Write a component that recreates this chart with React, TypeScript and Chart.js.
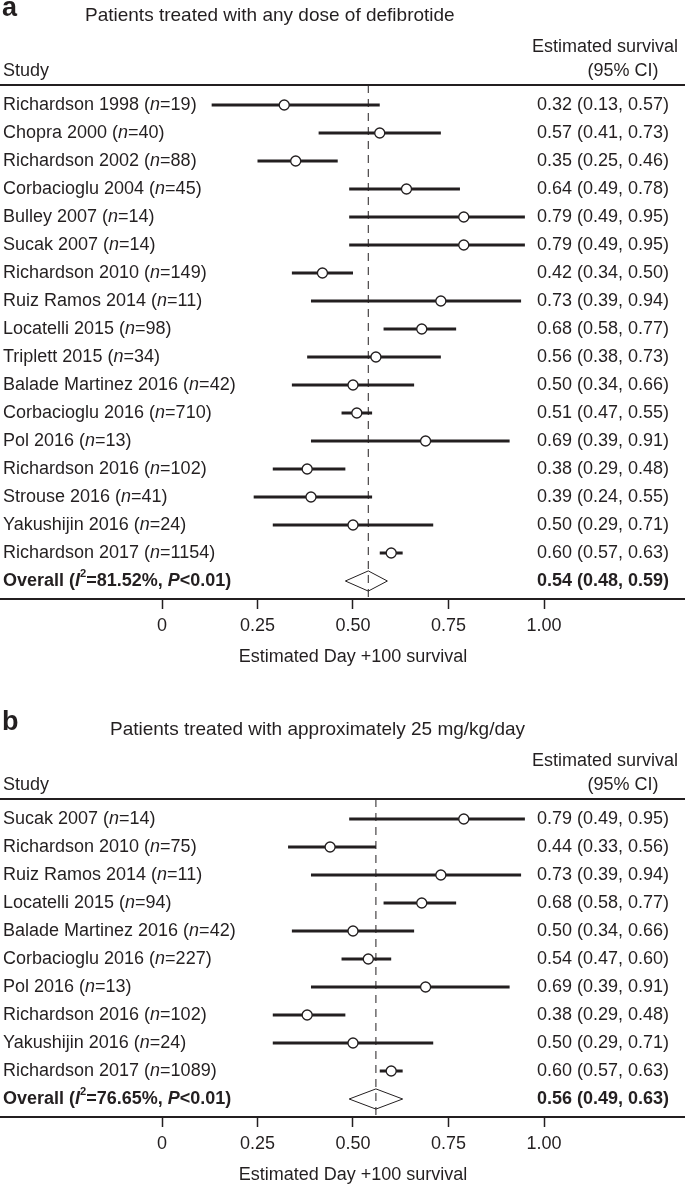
import React, { useEffect, useRef } from 'react';
import { Chart, registerables } from 'chart.js';

Chart.register(...registerables);

const FONT = "'Liberation Sans', Arial, Helvetica, sans-serif";
const INK = '#231f20';

// ---------- Panel a: any dose ----------
const studiesA = [
  'Richardson 1998', 'Chopra 2000', 'Richardson 2002', 'Corbacioglu 2004', 'Bulley 2007',
  'Sucak 2007', 'Richardson 2010', 'Ruiz Ramos 2014', 'Locatelli 2015', 'Triplett 2015',
  'Balade Martinez 2016', 'Corbacioglu 2016', 'Pol 2016', 'Richardson 2016', 'Strouse 2016',
  'Yakushijin 2016', 'Richardson 2017',
];
const nA = [19, 40, 88, 45, 14, 14, 149, 11, 98, 34, 42, 710, 13, 102, 41, 24, 1154];
const estA = [0.32, 0.57, 0.35, 0.64, 0.79, 0.79, 0.42, 0.73, 0.68, 0.56, 0.50, 0.51, 0.69, 0.38, 0.39, 0.50, 0.60];
const lowA = [0.13, 0.41, 0.25, 0.49, 0.49, 0.49, 0.34, 0.39, 0.58, 0.38, 0.34, 0.47, 0.39, 0.29, 0.24, 0.29, 0.57];
const highA = [0.57, 0.73, 0.46, 0.78, 0.95, 0.95, 0.50, 0.94, 0.77, 0.73, 0.66, 0.55, 0.91, 0.48, 0.55, 0.71, 0.63];
const overallA = [0.54, 0.48, 0.59];
const i2A = '81.52%';

// ---------- Panel b: ~25 mg/kg/day ----------
const studiesB = [
  'Sucak 2007', 'Richardson 2010', 'Ruiz Ramos 2014', 'Locatelli 2015', 'Balade Martinez 2016',
  'Corbacioglu 2016', 'Pol 2016', 'Richardson 2016', 'Yakushijin 2016', 'Richardson 2017',
];
const nB = [14, 75, 11, 94, 42, 227, 13, 102, 24, 1089];
const estB = [0.79, 0.44, 0.73, 0.68, 0.50, 0.54, 0.69, 0.38, 0.50, 0.60];
const lowB = [0.49, 0.33, 0.39, 0.58, 0.34, 0.47, 0.39, 0.29, 0.29, 0.57];
const highB = [0.95, 0.56, 0.94, 0.77, 0.66, 0.60, 0.91, 0.48, 0.71, 0.63];
const overallB = [0.56, 0.49, 0.63];
const i2B = '76.65%';

const xTicks = [0, 0.25, 0.5, 0.75, 1];
const xTitle = 'Estimated Day +100 survival';

type Seg = { t: string; b?: boolean; i?: boolean; sup?: boolean };

function fontOf(s: Seg, size: number) {
  return `${s.i ? 'italic ' : ''}${s.b ? 'bold ' : ''}${s.sup ? size * 0.62 : size}px ${FONT}`;
}

function drawRich(ctx: CanvasRenderingContext2D, segs: Seg[], x: number, y: number, size: number, align: 'left' | 'right' | 'center') {
  let w = 0;
  for (const s of segs) {
    ctx.font = fontOf(s, size);
    w += ctx.measureText(s.t).width;
  }
  let cx = align === 'right' ? x - w : align === 'center' ? x - w / 2 : x;
  ctx.textAlign = 'left';
  for (const s of segs) {
    ctx.font = fontOf(s, size);
    ctx.fillText(s.t, cx, s.sup ? y - size * 0.42 : y);
    cx += ctx.measureText(s.t).width;
  }
}

const fmt = (v: number) => v.toFixed(2);

type PanelCfg = {
  letter: string;
  title: string;
  titleX: number;
  studies: string[];
  ns: number[];
  est: number[];
  low: number[];
  high: number[];
  overall: number[];
  i2: string;
  height: number;
  lineY: number;
};

const ROW = 28;
const SIZE = 18;

function Panel({ cfg, top }: { cfg: PanelCfg; top: number }) {
  const ref = useRef<HTMLCanvasElement>(null);
  useEffect(() => {
    const canvas = ref.current!;
    const nRows = cfg.studies.length + 1;
    const k = nRows - 1;
    const yMin = -20 / ROW;
    const yMax = k + 18 / ROW;
    const bottom = cfg.lineY + (yMax - yMin) * ROW;
    const axisH = cfg.height - bottom;
    const lh = SIZE * 1.2;
    const xMin = -162 / 382;
    const xMax = xMin + 685 / 382;

    const datasets: any[] = [];
    datasets.push({
      type: 'scatter',
      data: cfg.est.map((v, i) => ({ x: v, y: i })),
      pointRadius: 5,
      pointBorderWidth: 1.3,
      pointBackgroundColor: '#ffffff',
      pointBorderColor: INK,
      order: 0,
    });
    cfg.low.forEach((lo, i) => {
      datasets.push({
        type: 'line',
        data: [{ x: lo, y: i }, { x: cfg.high[i], y: i }],
        borderColor: INK,
        borderWidth: 3,
        pointRadius: 0,
        borderCapStyle: 'butt',
        fill: false,
        order: 1,
      });
    });
    const [oe, ol, oh] = cfg.overall;
    datasets.push({
      type: 'line',
      data: [
        { x: ol, y: k }, { x: oe, y: k - 0.36 }, { x: oh, y: k }, { x: oe, y: k + 0.36 }, { x: ol, y: k },
      ],
      borderColor: INK,
      borderWidth: 1,
      pointRadius: 0,
      fill: false,
      order: 2,
    });
    datasets.push({
      type: 'line',
      data: [{ x: oe, y: yMin }, { x: oe, y: yMax }],
      borderColor: INK,
      borderWidth: 1,
      borderDash: [8, 6],
      pointRadius: 0,
      fill: false,
      order: 3,
    });

    const textPlugin = {
      id: 'forestText',
      afterDraw(chart: any) {
        const ctx: CanvasRenderingContext2D = chart.ctx;
        const ys = chart.scales.y;
        const xs = chart.scales.x;
        const area = chart.chartArea;
        ctx.save();
        ctx.fillStyle = INK;
        ctx.strokeStyle = INK;
        // header rule
        ctx.lineWidth = 2;
        ctx.beginPath();
        ctx.moveTo(0, area.top);
        ctx.lineTo(chart.width, area.top);
        ctx.stroke();
        // panel letter
        ctx.textBaseline = 'alphabetic';
        ctx.textAlign = 'left';
        ctx.font = `bold 27px ${FONT}`;
        ctx.fillText(cfg.letter, 2, area.top - 69);
        // title
        ctx.textBaseline = 'middle';
        ctx.font = `19px ${FONT}`;
        ctx.fillText(cfg.title, cfg.titleX, area.top - 69.5);
        // column headers
        ctx.font = `${SIZE}px ${FONT}`;
        ctx.fillText('Study', 3, area.top - 14);
        ctx.textAlign = 'center';
        ctx.fillText('Estimated survival', 605, area.top - 38);
        ctx.fillText('(95% CI)', 623, area.top - 14);
        // axis title, centred under 0.50
        ctx.fillText(xTitle, xs.getPixelForValue(0.5), area.bottom + 58.5);
        // rows
        cfg.studies.forEach((name, i) => {
          const y = ys.getPixelForValue(i);
          drawRich(ctx, [{ t: name + ' (' }, { t: 'n', i: true }, { t: '=' + cfg.ns[i] + ')' }], 3, y, SIZE, 'left');
          drawRich(ctx, [{ t: `${fmt(cfg.est[i])} (${fmt(cfg.low[i])}, ${fmt(cfg.high[i])})` }], 669, y, SIZE, 'right');
        });
        const yo = ys.getPixelForValue(k);
        drawRich(ctx, [
          { t: 'Overall (', b: true }, { t: 'I', b: true, i: true }, { t: '2', b: true, sup: true },
          { t: '=' + cfg.i2 + ', ', b: true }, { t: 'P', b: true, i: true }, { t: '<0.01)', b: true },
        ], 3, yo, SIZE, 'left');
        drawRich(ctx, [{ t: `${fmt(oe)} (${fmt(ol)}, ${fmt(oh)})`, b: true }], 669, yo, SIZE, 'right');
        ctx.restore();
      },
    };

    const chart = new Chart(canvas, {
      type: 'scatter',
      data: { datasets },
      plugins: [textPlugin],
      options: {
        animation: false,
        responsive: false,
        maintainAspectRatio: false,
        devicePixelRatio: 1,
        events: [],
        layout: { autoPadding: false, padding: { top: cfg.lineY, bottom: 0, left: 0, right: 0 } },
        plugins: { legend: { display: false }, tooltip: { enabled: false } },
        scales: {
          x: {
            type: 'linear',
            position: 'bottom',
            min: xMin,
            max: xMax,
            afterBuildTicks: (s: any) => {
              s.ticks = xTicks.map((v) => ({ value: v }));
            },
            afterFit: (s: any) => {
              s.height = axisH;
            },
            ticks: {
              autoSkip: false,
              maxRotation: 0,
              padding: 27 - 10 - lh / 2,
              color: INK,
              font: { family: FONT, size: SIZE },
              callback: (v: any) => (Number(v) === 0 ? '0' : Number(v).toFixed(2)),
            },
            grid: {
              drawOnChartArea: false,
              drawTicks: true,
              tickLength: 10,
              tickWidth: 1.5,
              tickColor: INK,
            },
            border: { display: true, color: INK, width: 2 },
            title: { display: false },
          },
          y: {
            type: 'linear',
            display: false,
            reverse: true,
            min: yMin,
            max: yMax,
          },
        },
      } as any,
    });
    return () => chart.destroy();
  }, [cfg]);
  return (
    <canvas
      ref={ref}
      width={685}
      height={cfg.height}
      style={{ position: 'absolute', left: 0, top, width: 685, height: cfg.height, display: 'block' }}
    />
  );
}

const panelA: PanelCfg = {
  letter: 'a',
  title: 'Patients treated with any dose of defibrotide',
  titleX: 85,
  studies: studiesA,
  ns: nA,
  est: estA,
  low: lowA,
  high: highA,
  overall: overallA,
  i2: i2A,
  height: 690,
  lineY: 85,
};

const panelB: PanelCfg = {
  letter: 'b',
  title: 'Patients treated with approximately 25 mg/kg/day',
  titleX: 110,
  studies: studiesB,
  ns: nB,
  est: estB,
  low: lowB,
  high: highB,
  overall: overallB,
  i2: i2B,
  height: 496,
  lineY: 109,
};

export default function App() {
  return (
    <div style={{ position: 'absolute', left: 0, top: 0, width: 685, height: 1186, background: '#fff', overflow: 'hidden' }}>
      <Panel cfg={panelA} top={0} />
      <Panel cfg={panelB} top={690} />
    </div>
  );
}
